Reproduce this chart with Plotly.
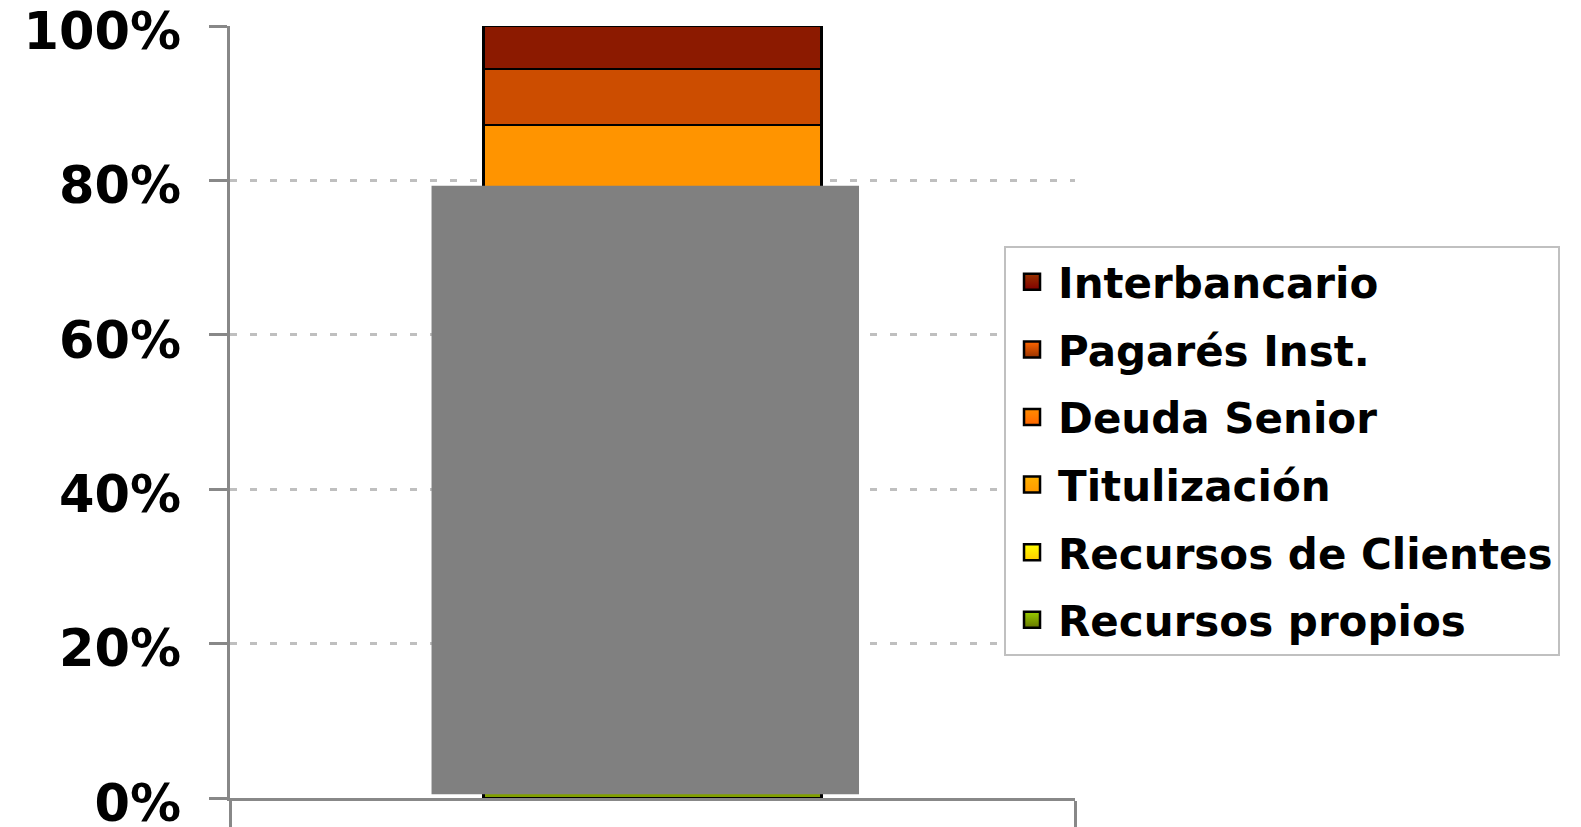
import plotly.graph_objects as go

# Funding structure, share of total (%), stacked from the bottom up
series = ["Recursos propios", "Recursos de Clientes", "Titulización",
          "Deuda Senior", "Pagarés Inst.", "Interbancario"]
values = [6.0, 42.0, 15.0, 24.2, 7.2, 5.6]
bar_colors = ["#809F00", "#FFE000", "#FFAA00", "#FF9400", "#CC4D00", "#8C1A00"]
# legend swatches use a top-to-bottom gradient
grad_top = ["#99CC00", "#FFFF00", "#FFB000", "#FF8C00", "#FF6600", "#993300"]
grad_bottom = ["#667700", "#FFCC00", "#FF9900", "#FF6600", "#993300", "#800000"]
category = [0]
y_ticks = [0, 20, 40, 60, 80, 100]
y_tick_text = ["0%", "20%", "40%", "60%", "80%", "100%"]

FONT = "DejaVu Sans"
AXIS_GREY = "#888888"

fig = go.Figure()

for name, v, c in zip(series, values, bar_colors):
    fig.add_trace(go.Bar(
        x=category, y=[v], name=name, width=0.4,
        marker=dict(color=c, line=dict(color="black", width=2.5)),
        showlegend=False,
    ))

# legend entries, listed top (Interbancario) to bottom
for i in reversed(range(len(series))):
    fig.add_trace(go.Scatter(
        x=[None], y=[None], mode="markers", name=series[i],
        legendgroup=series[i],
        marker=dict(symbol="square", size=16, color=grad_top[i],
                    gradient=dict(type="vertical", color=grad_bottom[i]),
                    line=dict(color="black", width=2.5)),
    ))

# grey panel laid over the lower part of the column
fig.add_shape(type="rect", xref="x", yref="y",
              x0=-0.2615, x1=0.2444, y0=0.5, y1=79.3,
              fillcolor="#808080", line=dict(width=0), layer="above")

fig.update_layout(
    width=1581, height=827,
    margin=dict(l=230, r=506, t=26, b=29),
    barmode="stack",
    plot_bgcolor="white", paper_bgcolor="white",
    font=dict(family=FONT, color="black"),
    legend=dict(
        x=0.916, y=0.715, xanchor="left", yanchor="top",
        bgcolor="white", bordercolor="#C0C0C0", borderwidth=2,
        font=dict(family=FONT, size=42, weight="bold", color="black"),
        tracegroupgap=10, itemclick=False, itemwidth=42,
    ),
    xaxis=dict(
        range=[-0.5, 0.5], tickvals=[-0.5, 0.5], showticklabels=False,
        ticks="outside", ticklen=36, tickwidth=2.5, tickcolor=AXIS_GREY,
        showline=True, linecolor=AXIS_GREY, linewidth=2.5,
        showgrid=False, zeroline=False, fixedrange=True, automargin=False,
    ),
    yaxis=dict(
        range=[0, 100], tickmode="array", tickvals=y_ticks, ticktext=y_tick_text,
        tickfont=dict(family=FONT, size=51, weight="bold", color="black"),
        ticks="outside", ticklen=18, tickwidth=2.5, tickcolor=AXIS_GREY,
        ticklabelstandoff=18, ticklabelshift=5, ticklabeloverflow="allow",
        showline=True, linecolor=AXIS_GREY, linewidth=2.5,
        showgrid=True, gridcolor="#BFBFBF", gridwidth=3, griddash="7px,13px",
        zeroline=False, fixedrange=True, automargin=False,
    ),
)

fig.write_html("out.html")
